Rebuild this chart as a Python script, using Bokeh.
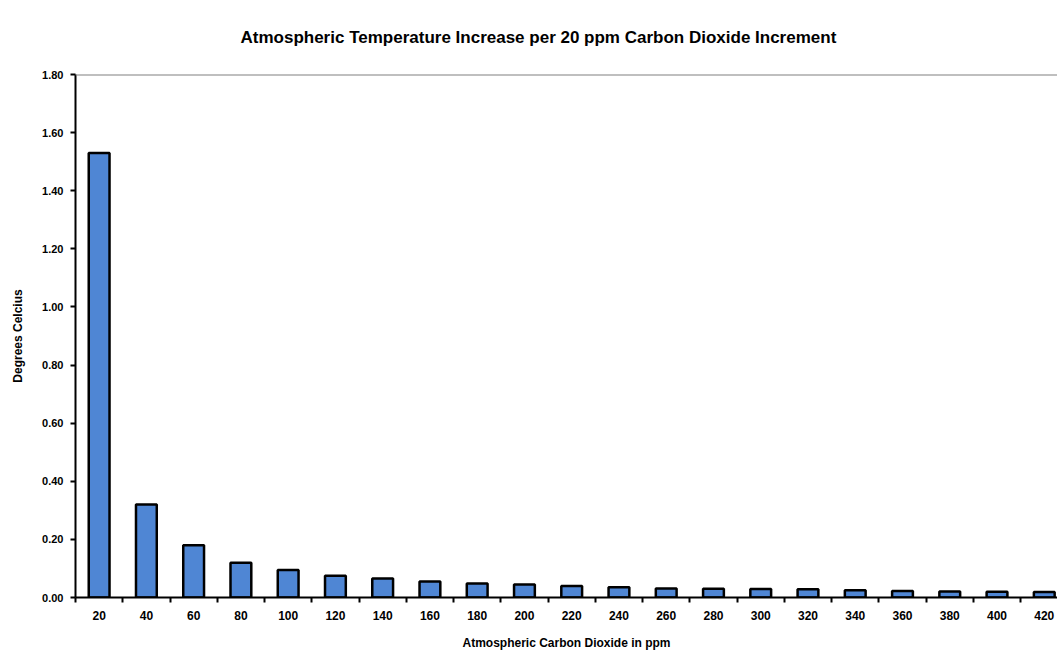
from bokeh.plotting import figure
from bokeh.models import ColumnDataSource, FixedTicker, Range1d, Span
from bokeh.embed import file_html
from bokeh.resources import INLINE

# CO2 concentration (ppm) at each 20 ppm step and the warming attributed to that step
co2_ppm = [20, 40, 60, 80, 100, 120, 140, 160, 180, 200, 220,
           240, 260, 280, 300, 320, 340, 360, 380, 400, 420]
temp_increase = [1.53, 0.32, 0.18, 0.12, 0.095, 0.075, 0.065, 0.055, 0.048, 0.045, 0.040,
                 0.035, 0.031, 0.030, 0.029, 0.028, 0.025, 0.022, 0.021, 0.020, 0.019]
y_ticks = [0.0, 0.2, 0.4, 0.6, 0.8, 1.0, 1.2, 1.4, 1.6, 1.8]
chart_title = "Atmospheric Temperature Increase per 20 ppm Carbon Dioxide Increment"

positions = list(range(1, len(co2_ppm) + 1))
source = ColumnDataSource(dict(x=positions, top=temp_increase))

FONT = "Liberation Sans"

p = figure(
    width=1057, height=663,
    output_backend="svg", toolbar_location=None,
    x_range=Range1d(0.5, 21.28), y_range=Range1d(0, 1.8),
    min_border_left=75, min_border_right=0, min_border_top=74, min_border_bottom=66,
    title=chart_title,
)
p.outline_line_color = None
p.background_fill_color = "white"
p.border_fill_color = "white"
p.xgrid.grid_line_color = None
p.ygrid.grid_line_color = None

p.title.text_font = FONT
p.title.text_font_size = "17px"
p.title.text_font_style = "bold"
p.title.text_color = "black"
p.title.align = "left"
p.title.offset = 165
p.title.vertical_align = "top"
p.title.standoff = 52

p.vbar(x="x", top="top", width=0.44, source=source,
       fill_color="#4f86d4", line_color="black", line_width=2.5)

# top border of the plotting area
p.add_layout(Span(location=1.8, dimension="width", line_color="#808080", line_width=2))

# x axis: labels under each bar, short ticks between categories
xa = p.xaxis[0]
xa.ticker = FixedTicker(ticks=positions, minor_ticks=[i + 0.5 for i in range(0, 22)])
xa.major_label_overrides = {pos: str(v) for pos, v in zip(positions, co2_ppm)}
xa.major_tick_in = 0
xa.major_tick_out = 0
xa.minor_tick_in = 0
xa.minor_tick_out = 5
xa.minor_tick_line_color = "black"
xa.minor_tick_line_width = 2
xa.axis_line_width = 2
xa.axis_line_color = "black"
xa.major_label_text_font = FONT
xa.major_label_text_font_style = "bold"
xa.major_label_text_font_size = "12px"
xa.major_label_text_color = "black"
xa.major_label_standoff = 8
xa.axis_label = "Atmospheric Carbon Dioxide in ppm"
xa.axis_label_text_font = FONT
xa.axis_label_text_font_style = "bold"
xa.axis_label_text_font_size = "12px"
xa.axis_label_text_color = "black"
xa.axis_label_standoff = 13

ya = p.yaxis[0]
ya.ticker = FixedTicker(ticks=y_ticks)
ya.major_label_overrides = {t: f"{t:.2f}" for t in y_ticks}
ya.major_tick_in = 0
ya.major_tick_out = 5
ya.major_tick_line_width = 2
ya.minor_tick_line_color = None
ya.axis_line_width = 2
ya.axis_line_color = "black"
ya.major_label_text_font = FONT
ya.major_label_text_font_style = "bold"
ya.major_label_text_font_size = "11px"
ya.major_label_text_color = "black"
ya.major_label_standoff = 7
ya.axis_label = "Degrees Celcius"
ya.axis_label_text_font = FONT
ya.axis_label_text_font_style = "bold"
ya.axis_label_text_font_size = "12px"
ya.axis_label_text_color = "black"
ya.axis_label_standoff = 14

open("out.html", "w").write(file_html(p, INLINE))
